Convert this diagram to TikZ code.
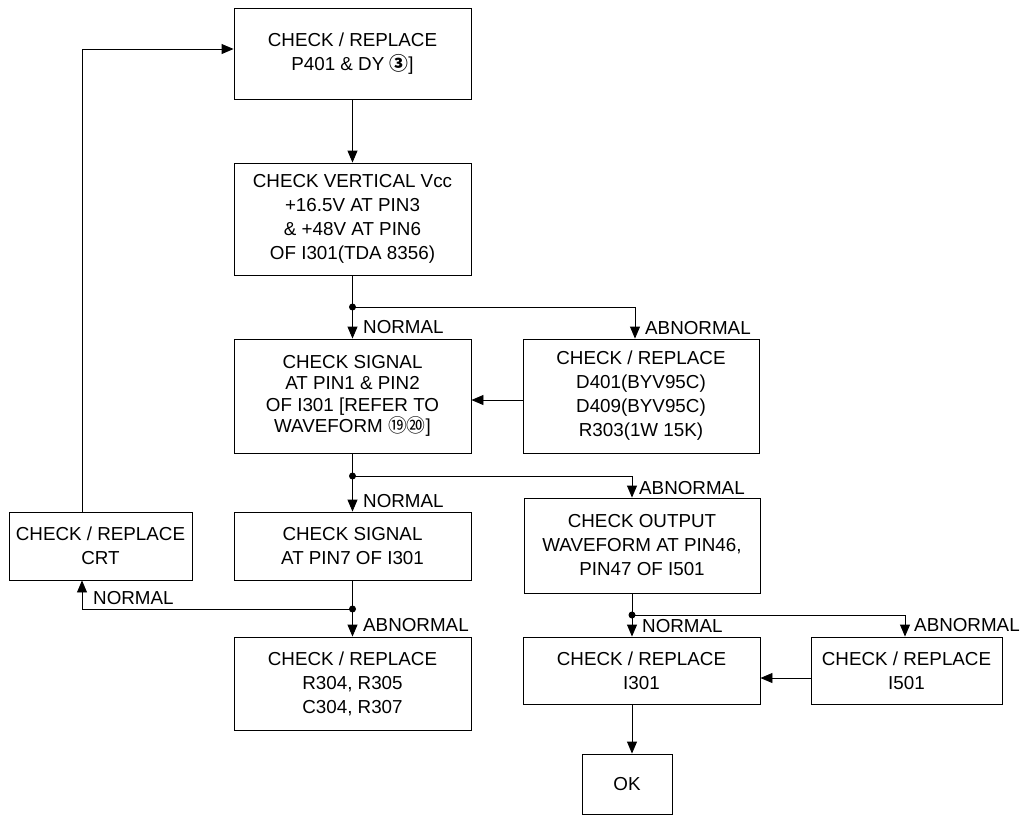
\documentclass[tikz,border=0pt]{standalone}
\usepackage{fontspec}
\setmainfont{Liberation Sans}
\newfontfamily\cjk{Noto Sans CJK SC}
\usetikzlibrary{arrows.meta}
\tikzset{
  box/.style={draw, line width=0.9pt, align=center, inner sep=0pt,
    font=\fontsize{18.8}{24}\selectfont},
  lbl/.style={anchor=west, inner sep=0pt, font=\fontsize{18.8}{22}\selectfont},
  wire/.style={line width=0.9pt},
  arr/.style={line width=0.9pt, -{Triangle[width=10pt,length=12pt]}},
  dot/.style={circle, fill=black, inner sep=0pt, minimum size=7pt}
}
\begin{document}
\begin{tikzpicture}[x=1pt,y=-1pt]
\useasboundingbox (0,0) rectangle (1025,815);
% boxes
\node[box, minimum width=237pt, minimum height=91pt] (A) at (352.5,53.5)
  {CHECK / REPLACE\\P401 \& DY {\cjk\bfseries ③}]};
\node[box, minimum width=237pt, minimum height=112pt] (B) at (352.5,219)
  {CHECK VERTICAL Vcc\\+16.5V AT PIN3\\\& +48V AT PIN6\\OF I301(TDA 8356)};
\node[box, minimum width=237pt, minimum height=114pt, font=\fontsize{18.8}{21.5}\selectfont] (C) at (352.5,396)
  {CHECK SIGNAL\\AT PIN1 \& PIN2\\OF I301 [REFER TO\\WAVEFORM {\cjk ⑲⑳}]};
\node[box, minimum width=236pt, minimum height=114pt] (D) at (641,396)
  {CHECK / REPLACE\\D401(BYV95C)\\D409(BYV95C)\\R303(1W 15K)};
\node[box, minimum width=237pt, minimum height=68pt] (E) at (352.5,546)
  {CHECK SIGNAL\\AT PIN7 OF I301};
\node[box, minimum width=183pt, minimum height=68pt] (CRT) at (100.5,546)
  {CHECK / REPLACE\\CRT};
\node[box, minimum width=236pt, minimum height=95pt] (F) at (642,545.5)
  {CHECK OUTPUT\\WAVEFORM AT PIN46,\\PIN47 OF I501};
\node[box, minimum width=237pt, minimum height=93pt] (G) at (352.5,683.5)
  {CHECK / REPLACE\\R304, R305\\C304, R307};
\node[box, minimum width=237pt, minimum height=67pt] (H) at (641.5,670.5)
  {CHECK / REPLACE\\I301};
\node[box, minimum width=191pt, minimum height=67pt] (I) at (906.5,670.5)
  {CHECK / REPLACE\\I501};
\node[box, minimum width=90pt, minimum height=60pt] (OK) at (627,784) {OK};
% junctions and bends
\node[dot] (j1) at (352.5,307) {};
\node[dot] (j2) at (352.5,476) {};
\node[dot] (j3) at (352.5,609) {};
\node[dot] (j4) at (632,615) {};
\coordinate (tl) at (82,49);
\coordinate (k1) at (635,307);
\coordinate (k2) at (632,476);
\coordinate (k4) at (905,615);
% connectors
\draw[arr] (A.south) -- (B.north);
\draw[wire] (B.south) -- (j1.center);
\draw[arr] (j1.center) -- (C.north);
\draw[arr] (j1.center) -- (k1) -- (D.north -| k1);
\draw[arr] (D.west |- 0,400) -- (C.east |- 0,400);
\draw[wire] (C.south) -- (j2.center);
\draw[arr] (j2.center) -- (E.north);
\draw[arr] (j2.center) -- (k2) -- (F.north -| k2);
\draw[wire] (E.south) -- (j3.center);
\draw[arr] (j3.center) -- (G.north);
\draw[arr] (j3.center) -- (j3 -| tl) -- (CRT.south -| tl);
\draw[arr] (CRT.north -| tl) -- (tl) -- (A.west |- tl);
\draw[wire] (F.south -| j4) -- (j4.center);
\draw[arr] (j4.center) -- (H.north -| j4);
\draw[arr] (j4.center) -- (k4) -- (I.north -| k4);
\draw[arr] (I.west |- 0,678) -- (H.east |- 0,678);
\draw[arr] (H.south -| j4) -- (OK.north -| j4);
% labels
\node[lbl] (n1) at (363,327) {NORMAL};
\node[lbl] (a1) at (645,328) {ABNORMAL};
\node[lbl] (n2) at (363,501) {NORMAL};
\node[lbl] (a2) at (639,488) {ABNORMAL};
\node[lbl] (n3) at (93,598) {NORMAL};
\node[lbl] (a3) at (363,625) {ABNORMAL};
\node[lbl] (n4) at (642,626) {NORMAL};
\node[lbl] (a4) at (914,625) {ABNORMAL};
\end{tikzpicture}
\end{document}
